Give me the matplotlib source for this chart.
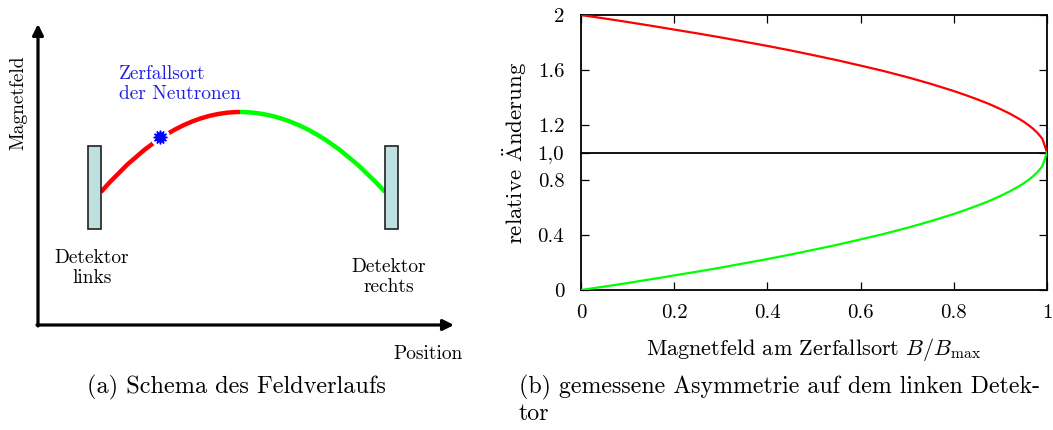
import matplotlib
matplotlib.use('Agg')
import matplotlib.pyplot as plt
from matplotlib.patches import Rectangle, PathPatch
from matplotlib.path import Path

plt.rcParams['font.family'] = ['cmr10', 'DejaVu Serif']
plt.rcParams['mathtext.fontset'] = 'cm'
plt.rcParams['axes.unicode_minus'] = False

# relative change vs. field at decay location
b_frac = [0, 0.05, 0.1, 0.15, 0.2, 0.25, 0.3, 0.35, 0.4, 0.45, 0.5, 0.55,
          0.6, 0.65, 0.7, 0.75, 0.8, 0.825, 0.85, 0.875, 0.9, 0.92, 0.94,
          0.95, 0.96, 0.97, 0.98, 0.99, 1.0]
rel_red = [2.0, 1.975, 1.949, 1.922, 1.894, 1.866, 1.837, 1.806, 1.775, 1.742,
           1.707, 1.671, 1.632, 1.592, 1.548, 1.5, 1.447, 1.418, 1.387, 1.354,
           1.316, 1.283, 1.245, 1.224, 1.2, 1.173, 1.141, 1.1, 1.0]
rel_green = [0.0, 0.025, 0.051, 0.078, 0.106, 0.134, 0.163, 0.194, 0.225,
             0.258, 0.293, 0.329, 0.368, 0.408, 0.452, 0.5, 0.553, 0.582,
             0.613, 0.646, 0.684, 0.717, 0.755, 0.776, 0.8, 0.827, 0.859,
             0.9, 1.0]
x_ticks = [0, 0.2, 0.4, 0.6, 0.8, 1.0]
x_ticklabels = ['0', '0.2', '0.4', '0.6', '0.8', '1']
y_ticks = [0, 0.4, 0.8, 1.0, 1.2, 1.6, 2.0]
y_ticklabels = ['0', '0.4', '0.8', '1,0', '1.2', '1.6', '2']

RED = '#ff0000'
GREEN = '#00ff00'
DET_FILL = '#bde0e0'

fig = plt.figure(figsize=(10.53, 4.30), dpi=100)

# ---- (a) schematic, drawn in pixel coordinates ----
ax0 = fig.add_axes([0, 0, 480 / 1053, 1])
ax0.set_xlim(0, 480)
ax0.set_ylim(430, 0)
ax0.axis('off')

origin = (38, 325)
arrow_kw = dict(arrowstyle='-|>', lw=2.3, color='black', mutation_scale=16,
                shrinkA=0, shrinkB=0)
ax0.annotate('', xy=(origin[0], 24), xytext=(origin[0], origin[1] + 1), arrowprops=arrow_kw)
ax0.annotate('', xy=(454, origin[1]), xytext=(origin[0] - 1, origin[1]), arrowprops=arrow_kw)

# field curve: two quadratic bezier halves meeting at the maximum
left_half = Path([(101, 192), (170.5, 112), (240, 112)],
                 [Path.MOVETO, Path.CURVE3, Path.CURVE3])
right_half = Path([(240, 112), (312.5, 112), (385, 192)],
                  [Path.MOVETO, Path.CURVE3, Path.CURVE3])
ax0.add_patch(PathPatch(left_half, fill=False, edgecolor=RED, lw=3.2, capstyle='butt', zorder=2))
ax0.add_patch(PathPatch(right_half, fill=False, edgecolor=GREEN, lw=3.2, capstyle='butt', zorder=2))

# detectors
for x0 in (88, 385):
    ax0.add_patch(Rectangle((x0, 146), 13, 83, facecolor=DET_FILL,
                            edgecolor='#202020', lw=1.2, zorder=3))

# decay location
ax0.plot(160, 137, 'o', color='white', ms=13, zorder=4)
ax0.plot(160, 137, marker=(12, 1, 0), color='#0000ff', ms=10, zorder=5)

ax0.text(119, 84, 'Zerfallsort\nder Neutronen', color='#2020e0', fontsize=14,
         ha='left', va='center', linespacing=1.2)
ax0.text(92, 268, 'Detektor\nlinks', fontsize=14, ha='center', va='center', linespacing=1.2)
ax0.text(389, 277, 'Detektor\nrechts', fontsize=14, ha='center', va='center', linespacing=1.2)
ax0.text(428, 354, 'Position', fontsize=14, ha='center', va='center')
ax0.text(18, 103, 'Magnetfeld', fontsize=14, ha='center', va='center', rotation=90)
ax0.text(236, 387, '(a) Schema des Feldverlaufs', fontsize=17.5, ha='center', va='center')

# ---- (b) measured asymmetry on the left detector ----
ax = fig.add_axes([581 / 1053, 1 - 290 / 430, 466 / 1053, 275 / 430])
ax.plot(b_frac, rel_red, color=RED, lw=1.6, zorder=3)
ax.plot(b_frac, rel_green, color=GREEN, lw=1.6, zorder=3)
ax.axhline(1.0, color='black', lw=1.3, zorder=2)

ax.set_xlim(0, 1)
ax.set_ylim(0, 2)
ax.set_xticks(x_ticks)
ax.set_xticklabels(x_ticklabels)
ax.set_yticks(y_ticks)
ax.set_yticklabels(y_ticklabels)
ax.tick_params(direction='in', length=6, width=0.9, top=True, right=True,
               labelsize=15)
ax.tick_params(axis='x', pad=10)
ax.tick_params(axis='y', pad=12)
for s in ax.spines.values():
    s.set_linewidth(1.3)

ax.set_ylabel(r'relative $\mathrm{\ddot{A}}$nderung', fontsize=16.5, labelpad=6)
ax.set_xlabel(r'Magnetfeld am Zerfallsort $B/B_{\mathrm{max}}$', fontsize=16, labelpad=10)

fig.text(519 / 1053, 1 - 387 / 430, '(b) gemessene Asymmetrie auf dem linken Detek-',
         fontsize=17.2, ha='left', va='center')
fig.text(519 / 1053, 1 - 414 / 430, 'tor', fontsize=17.2, ha='left', va='center')

fig.savefig('out.png', dpi=100)
